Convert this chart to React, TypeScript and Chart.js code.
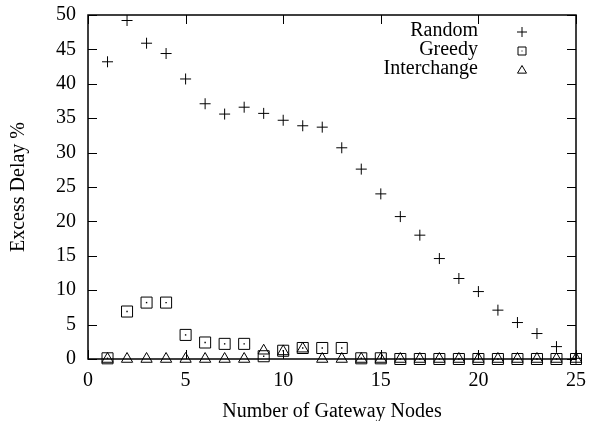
import React, { useEffect, useRef } from "react";
import { Chart, registerables } from "chart.js";

Chart.register(...registerables);

const gatewayNodes = [1, 2, 3, 4, 5, 6, 7, 8, 9, 10, 11, 12, 13, 14, 15, 16, 17, 18, 19, 20, 21, 22, 23, 24, 25];
const randomDelay = [43.2, 49.2, 45.9, 44.4, 40.7, 37.1, 35.6, 36.6, 35.7, 34.7, 33.9, 33.7, 30.7, 27.6, 24.0, 20.7, 18.0, 14.6, 11.7, 9.8, 7.1, 5.3, 3.7, 1.8, 0.1];
const greedyDelay = [0.1, 6.9, 8.2, 8.2, 3.5, 2.4, 2.2, 2.2, 0.4, 1.2, 1.6, 1.6, 1.6, 0.1, 0.1, 0, 0, 0, 0, 0, 0, 0, 0, 0, 0];
const interchangeDelay = [0, 0, 0, 0, 0, 0, 0, 0, 1.2, 1.1, 1.5, 0, 0, 0, 0, 0, 0, 0, 0, 0, 0, 0, 0, 0, 0];
const seriesNames = ["Random", "Greedy", "Interchange"];
const xTicks = [0, 5, 10, 15, 20, 25];
const yTicks = [0, 5, 10, 15, 20, 25, 30, 35, 40, 45, 50];

const FONT = "'Liberation Serif', 'Times New Roman', serif";

function drawMarker(ctx: CanvasRenderingContext2D, kind: string, x: number, y: number, s: number) {
  ctx.beginPath();
  if (kind === "cross") {
    ctx.moveTo(x - s, y);
    ctx.lineTo(x + s, y);
    ctx.moveTo(x, y - s);
    ctx.lineTo(x, y + s);
    ctx.stroke();
  } else if (kind === "rect") {
    ctx.rect(x - s, y - s, 2 * s, 2 * s);
    ctx.stroke();
    ctx.fillRect(x - 0.5, y - 0.5, 1, 1);
  } else {
    ctx.moveTo(x, y - s);
    ctx.lineTo(x + s, y + s * 0.7);
    ctx.lineTo(x - s, y + s * 0.7);
    ctx.closePath();
    ctx.stroke();
  }
}

const framePlugin = {
  id: "gnuFrame",
  afterDraw(chart: any) {
    const { ctx, chartArea, scales } = chart;
    const { left, right, top, bottom } = chartArea;
    ctx.save();
    ctx.strokeStyle = "#000";
    ctx.fillStyle = "#000";
    ctx.lineWidth = 1.5;
    ctx.strokeRect(left, top, right - left, bottom - top);
    ctx.lineWidth = 1;
    const tl = 9;
    ctx.beginPath();
    for (const v of xTicks) {
      const px = Math.round(scales.x.getPixelForValue(v)) + 0.5;
      ctx.moveTo(px, bottom);
      ctx.lineTo(px, bottom - tl);
      ctx.moveTo(px, top);
      ctx.lineTo(px, top + tl);
    }
    for (const v of yTicks) {
      const py = Math.round(scales.y.getPixelForValue(v)) + 0.5;
      ctx.moveTo(left, py);
      ctx.lineTo(left + tl, py);
      ctx.moveTo(right, py);
      ctx.lineTo(right - tl, py);
    }
    ctx.stroke();
    // legend
    ctx.font = `20px ${FONT}`;
    ctx.textAlign = "right";
    ctx.textBaseline = "middle";
    const kinds = ["cross", "rect", "triangle"];
    const sizes = [5, 4, 4.5];
    seriesNames.forEach((name, i) => {
      const y = 31 + i * 19;
      ctx.fillText(name, 478, y);
      drawMarker(ctx, kinds[i], 522, y + 1, sizes[i]);
    });
    ctx.restore();
  },
};

export default function App() {
  const ref = useRef<HTMLCanvasElement | null>(null);
  useEffect(() => {
    document.body.style.margin = "0";
    const canvas = ref.current!;
    const mk = (vals: number[]) => gatewayNodes.map((x, i) => ({ x, y: vals[i] }));
    const chart = new Chart(canvas, {
      type: "scatter",
      data: {
        datasets: [
          {
            label: seriesNames[2],
            data: mk(interchangeDelay),
            pointStyle: "triangle",
            pointRadius: 6.5,
            pointBorderWidth: 1,
            borderColor: "#000",
            backgroundColor: "rgba(0,0,0,0)",
            clip: false as any,
          },
          {
            label: seriesNames[1] + " dot",
            data: mk(greedyDelay),
            pointStyle: "rect",
            pointRadius: 1,
            pointBorderWidth: 0,
            borderColor: "#000",
            backgroundColor: "#000",
            clip: false as any,
          },
          {
            label: seriesNames[1],
            data: mk(greedyDelay),
            pointStyle: "rect",
            pointRadius: 7.8,
            pointBorderWidth: 1,
            borderColor: "#000",
            backgroundColor: "rgba(0,0,0,0)",
            clip: false as any,
          },
          {
            label: seriesNames[0],
            data: mk(randomDelay),
            pointStyle: "cross",
            pointRadius: 5.5,
            pointBorderWidth: 1,
            borderColor: "#000",
            backgroundColor: "#000",
            clip: false as any,
          },
        ],
      },
      options: {
        responsive: false,
        animation: false,
        events: [],
        layout: { padding: { top: 15, right: 13, left: 0, bottom: 0 } },
        plugins: { legend: { display: false }, tooltip: { enabled: false } },
        scales: {
          x: {
            type: "linear",
            min: 0,
            max: 25,
            afterBuildTicks: (s: any) => {
              s.ticks = xTicks.map((v) => ({ value: v }));
            },
            afterFit: (s: any) => {
              s.height = 62;
              s.paddingLeft = 0;
              s.paddingRight = 0;
            },
            grid: { display: false, drawTicks: false },
            border: { display: false },
            ticks: { color: "#000", font: { family: FONT, size: 20 }, padding: 10, maxRotation: 0 },
            title: {
              display: true,
              text: "Number of Gateway Nodes",
              color: "#000",
              font: { family: FONT, size: 20 },
              padding: { top: 0, bottom: -3 },
            },
          },
          y: {
            type: "linear",
            min: 0,
            max: 50,
            afterBuildTicks: (s: any) => {
              s.ticks = yTicks.map((v) => ({ value: v }));
            },
            afterFit: (s: any) => {
              s.width = 88;
              s.paddingTop = 0;
              s.paddingBottom = 0;
            },
            grid: { display: false, drawTicks: false },
            border: { display: false },
            ticks: { color: "#000", font: { family: FONT, size: 20 }, padding: 12 },
            title: {
              display: true,
              text: "Excess Delay %",
              color: "#000",
              font: { family: FONT, size: 20 },
              padding: { top: 7, bottom: 0 },
            },
          },
        },
      },
      plugins: [framePlugin],
    });
    return () => chart.destroy();
  }, []);
  return (
    <div style={{ width: 589, height: 421 }}>
      <canvas ref={ref} width={589} height={421} />
    </div>
  );
}
